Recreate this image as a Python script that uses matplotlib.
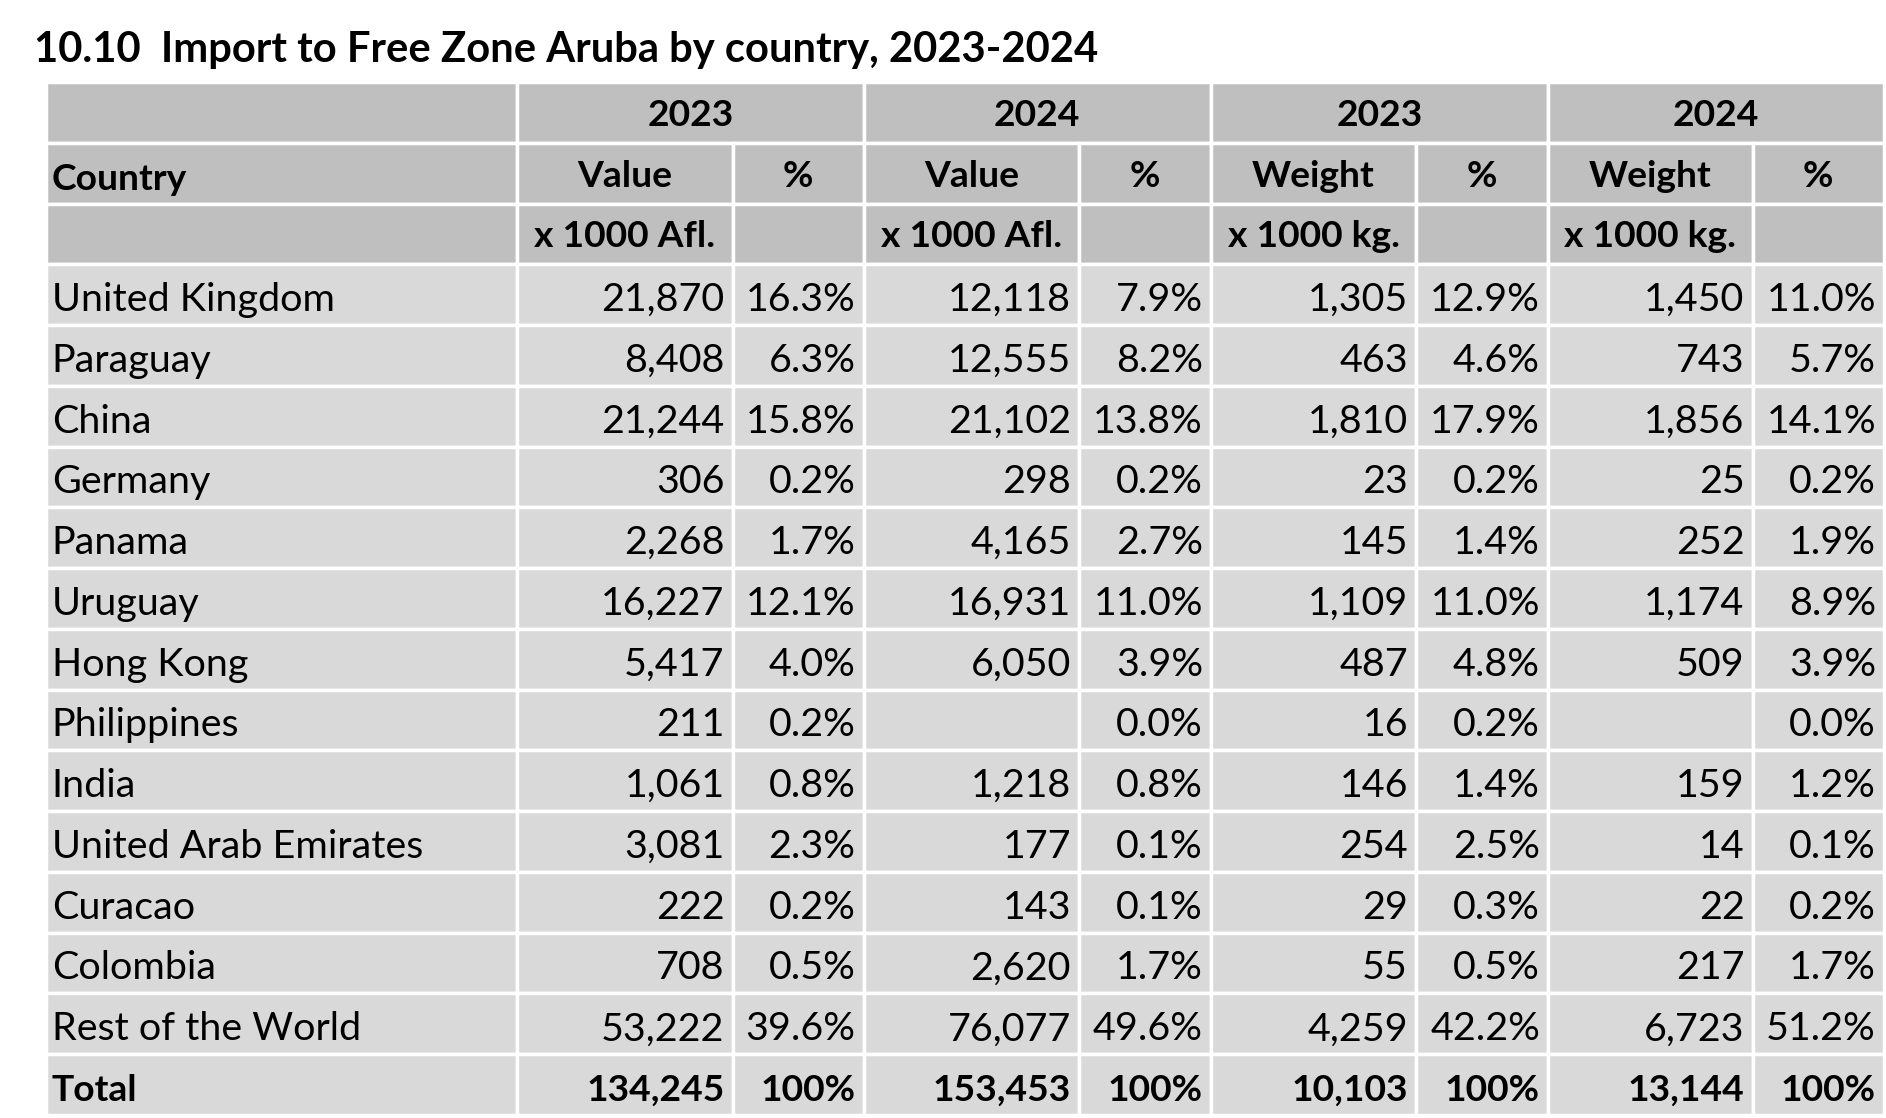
import matplotlib
matplotlib.use("Agg")
import matplotlib.pyplot as plt
from matplotlib.patches import Rectangle

# ---------------- data ----------------
title = "10.10  Import to Free Zone Aruba by country, 2023-2024"
countries = ["United Kingdom", "Paraguay", "China", "Germany", "Panama", "Uruguay",
             "Hong Kong", "Philippines", "India", "United Arab Emirates", "Curacao",
             "Colombia", "Rest of the World"]
value_2023 = [21870, 8408, 21244, 306, 2268, 16227, 5417, 211, 1061, 3081, 222, 708, 53222]
value_2023_pct = [16.3, 6.3, 15.8, 0.2, 1.7, 12.1, 4.0, 0.2, 0.8, 2.3, 0.2, 0.5, 39.6]
value_2024 = [12118, 12555, 21102, 298, 4165, 16931, 6050, None, 1218, 177, 143, 2620, 76077]
value_2024_pct = [7.9, 8.2, 13.8, 0.2, 2.7, 11.0, 3.9, 0.0, 0.8, 0.1, 0.1, 1.7, 49.6]
weight_2023 = [1305, 463, 1810, 23, 145, 1109, 487, 16, 146, 254, 29, 55, 4259]
weight_2023_pct = [12.9, 4.6, 17.9, 0.2, 1.4, 11.0, 4.8, 0.2, 1.4, 2.5, 0.3, 0.5, 42.2]
weight_2024 = [1450, 743, 1856, 25, 252, 1174, 509, None, 159, 14, 22, 217, 6723]
weight_2024_pct = [11.0, 5.7, 14.1, 0.2, 1.9, 8.9, 3.9, 0.0, 1.2, 0.1, 0.2, 1.7, 51.2]
total_label = "Total"
totals = [134245, 153453, 10103, 13144]
total_pct = [100, 100, 100, 100]
year_headers = ["2023", "2024", "2023", "2024"]
measure_headers = ["Value", "Value", "Weight", "Weight"]
unit_headers = ["x 1000 Afl.", "x 1000 Afl.", "x 1000 kg.", "x 1000 kg."]

# ---------------- layout ----------------
W, H = 1886, 1118
FONT = ["Lato", "DejaVu Sans"]
col_edges = [45.7, 517, 732.5, 863.6, 1079, 1211, 1416, 1548, 1752.5, 1884]
table_top, table_bottom = 82, 1115
n_rows = 3 + len(countries) + 1
row_h = (table_bottom - table_top) / n_rows
HEAD_BG = "#BFBFBF"
BODY_BG = "#D9D9D9"
LINE_W = 2.5

fig = plt.figure(figsize=(W / 100, H / 100), dpi=100)
ax = fig.add_axes([0, 0, 1, 1])
ax.set_xlim(0, W)
ax.set_ylim(H, 0)
ax.axis("off")
renderer = fig.canvas.get_renderer()


def fit_size(text, target, weight):
    t = ax.text(0, 0, text, fontsize=20, fontweight=weight, family=FONT)
    w = t.get_window_extent(renderer).width
    t.remove()
    return 20 * target / w


title_fs = fit_size(title, 1065, "bold")
body_fs = fit_size("United Kingdom", 283, "normal")
head_fs = fit_size("x 1000 Afl.", 182, "bold")

ax.text(34, 62, title, fontsize=title_fs, fontweight="bold", family=FONT,
        ha="left", va="baseline", color="black")


def row_y(i):
    return table_top + i * row_h


def cell(x0, x1, r0, r1, color):
    ax.add_patch(Rectangle((x0, row_y(r0)), x1 - x0, row_y(r1) - row_y(r0),
                           facecolor=color, edgecolor="white", linewidth=LINE_W))


# header cells
cell(col_edges[0], col_edges[1], 0, 1, HEAD_BG)
cell(col_edges[0], col_edges[1], 1, 2, HEAD_BG)
cell(col_edges[0], col_edges[1], 2, 3, HEAD_BG)
for g in range(4):
    a, b, c = col_edges[1 + 2 * g], col_edges[2 + 2 * g], col_edges[3 + 2 * g]
    cell(a, c, 0, 1, HEAD_BG)
    for r in (1, 2):
        cell(a, b, r, r + 1, HEAD_BG)
        cell(b, c, r, r + 1, HEAD_BG)
# body cells
for r in range(3, n_rows):
    for k in range(len(col_edges) - 1):
        cell(col_edges[k], col_edges[k + 1], r, r + 1, BODY_BG)

BASE = 0.77
PAD_L = 6
PAD_R = 8


def base_y(r):
    return row_y(r) + BASE * row_h


# header texts
ax.text(col_edges[0] + PAD_L, base_y(1), "Country", fontsize=head_fs, fontweight="bold",
        family=FONT, ha="left", va="baseline")
for g in range(4):
    a, b, c = col_edges[1 + 2 * g], col_edges[2 + 2 * g], col_edges[3 + 2 * g]
    ax.text((a + c) / 2, base_y(0) - 3, year_headers[g], fontsize=head_fs, fontweight="bold",
            family=FONT, ha="center", va="baseline")
    ax.text((a + b) / 2, base_y(1) - 3, measure_headers[g], fontsize=head_fs, fontweight="bold",
            family=FONT, ha="center", va="baseline")
    ax.text((b + c) / 2, base_y(1) - 3, "%", fontsize=head_fs, fontweight="bold",
            family=FONT, ha="center", va="baseline")
    ax.text((a + b) / 2, base_y(2) - 3, unit_headers[g], fontsize=head_fs, fontweight="bold",
            family=FONT, ha="center", va="baseline")


def fmt_num(v):
    return "" if v is None else f"{v:,}"


def fmt_pct(v):
    return f"{v:.1f}%"


series = [(value_2023, value_2023_pct), (value_2024, value_2024_pct),
          (weight_2023, weight_2023_pct), (weight_2024, weight_2024_pct)]
for i, name in enumerate(countries):
    r = 3 + i
    ax.text(col_edges[0] + PAD_L, base_y(r), name, fontsize=body_fs, family=FONT,
            ha="left", va="baseline")
    for g, (vals, pcts) in enumerate(series):
        ax.text(col_edges[2 + 2 * g] - PAD_R, base_y(r), fmt_num(vals[i]), fontsize=body_fs,
                family=FONT, ha="right", va="baseline")
        ax.text(col_edges[3 + 2 * g] - PAD_R, base_y(r), fmt_pct(pcts[i]), fontsize=body_fs,
                family=FONT, ha="right", va="baseline")

r = n_rows - 1
ax.text(col_edges[0] + PAD_L, base_y(r), total_label, fontsize=head_fs, fontweight="bold",
        family=FONT, ha="left", va="baseline")
for g in range(4):
    ax.text(col_edges[2 + 2 * g] - PAD_R, base_y(r), fmt_num(totals[g]), fontsize=head_fs,
            fontweight="bold", family=FONT, ha="right", va="baseline")
    ax.text(col_edges[3 + 2 * g] - PAD_R, base_y(r), f"{total_pct[g]}%", fontsize=head_fs,
            fontweight="bold", family=FONT, ha="right", va="baseline")

fig.savefig("out.png", dpi=100, facecolor="white")
